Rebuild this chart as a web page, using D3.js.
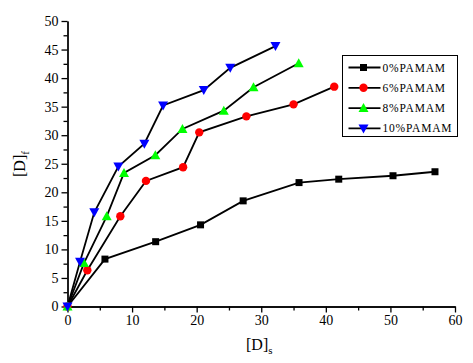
<!DOCTYPE html>
<html>
<head>
<meta charset="utf-8">
<script src="https://cdn.jsdelivr.net/npm/d3@7"></script>
<style>
  body { margin: 0; background: #fff; }
  svg { display: block; font-family: "Liberation Serif", "Times New Roman", serif; }
  .axis path, .axis line { stroke: #000; stroke-width: 1.3; }
  .axis text { font-size: 14px; fill: #000; font-family: "Liberation Serif", serif; }
</style>
</head>
<body>
<svg width="473" height="363"></svg>
<script>
// series names, x values ([D]s) and y values ([D]f)
var seriesNames = ["0%PAMAM", "6%PAMAM", "8%PAMAM", "10%PAMAM"];
var x0 = [0, 5.8, 13.65, 20.6, 27.2, 35.85, 42.0, 50.4, 56.9];
var y0 = [0, 8.3, 11.35, 14.3, 18.5, 21.7, 22.3, 22.9, 23.6];
var x6 = [0, 3.07, 8.18, 12.15, 17.9, 20.4, 27.7, 35.0, 41.3];
var y6 = [0, 6.34, 15.8, 22.0, 24.4, 30.5, 33.3, 35.4, 38.5];
var x8 = [0, 2.55, 6.07, 8.75, 13.6, 17.8, 24.2, 28.8, 35.8];
var y8 = [0, 7.6, 15.8, 23.4, 26.5, 31.1, 34.3, 38.4, 42.6];
var x10 = [0, 1.94, 4.15, 7.87, 11.9, 14.8, 21.1, 25.2, 32.2];
var y10 = [0, 7.85, 16.5, 24.5, 28.5, 35.2, 37.9, 41.8, 45.6];
var xTicks = [0, 10, 20, 30, 40, 50, 60];
var yTicks = [0, 5, 10, 15, 20, 25, 30, 35, 40, 45, 50];

var svg = d3.select("svg");

var xScale = d3.scaleLinear().domain([0, 60]).range([67.5, 455]);
var yScale = d3.scaleLinear().domain([0, 50]).range([306.5, 21]);

// minor ticks first, then major axes on top
svg.append("g").attr("class", "axis")
    .attr("transform", "translate(0,306.5)")
    .call(d3.axisBottom(xScale).tickValues(d3.range(5, 60, 10)).tickSize(4).tickSizeOuter(0).tickFormat(""));
svg.append("g").attr("class", "axis")
    .attr("transform", "translate(67.5,0)")
    .call(d3.axisLeft(yScale).tickValues(d3.range(2.5, 50, 5)).tickSize(4).tickSizeOuter(0).tickFormat(""));

svg.append("g").attr("class", "axis")
    .attr("transform", "translate(0,306.5)")
    .call(d3.axisBottom(xScale).tickValues(xTicks).tickSize(6).tickSizeOuter(0).tickPadding(3));
svg.append("g").attr("class", "axis")
    .attr("transform", "translate(67.5,0)")
    .call(d3.axisLeft(yScale).tickValues(yTicks).tickSize(6).tickSizeOuter(0).tickPadding(3));

// axis titles
var xt = svg.append("text").attr("x", 246).attr("y", 350).attr("font-size", 16);
xt.append("tspan").text("[D]");
xt.append("tspan").attr("font-size", 11).attr("dy", 4).text("s");

var yt = svg.append("text").attr("transform", "translate(25,177) rotate(-90)").attr("font-size", 16);
yt.append("tspan").text("[D]");
yt.append("tspan").attr("font-size", 11).attr("dy", 4).text("f");

var series = [
  { name: seriesNames[0], xs: x0, ys: y0, color: "#000000", shape: "square" },
  { name: seriesNames[1], xs: x6, ys: y6, color: "#ff0000", shape: "circle" },
  { name: seriesNames[2], xs: x8, ys: y8, color: "#00ff00", shape: "up" },
  { name: seriesNames[3], xs: x10, ys: y10, color: "#0000ff", shape: "down" }
];

function marker(sel, s) {
  if (s.shape === "square") {
    sel.append("rect").attr("x", -3.5).attr("y", -3.5).attr("width", 7).attr("height", 7).attr("fill", s.color);
  } else if (s.shape === "circle") {
    sel.append("circle").attr("r", 4.2).attr("fill", s.color);
  } else if (s.shape === "up") {
    sel.append("path").attr("d", "M0,-5L5,4L-5,4Z").attr("fill", s.color);
  } else {
    sel.append("path").attr("d", "M0,5L5,-4L-5,-4Z").attr("fill", s.color);
  }
}

var line = d3.line().x(function (d) { return xScale(d[0]); }).y(function (d) { return yScale(d[1]); });

series.forEach(function (s) {
  var pts = s.xs.map(function (x, i) { return [x, s.ys[i]]; });
  svg.append("path").datum(pts)
      .attr("d", line)
      .attr("fill", "none")
      .attr("stroke", "#000")
      .attr("stroke-width", 1.8);
});
series.forEach(function (s) {
  var pts = s.xs.map(function (x, i) { return [x, s.ys[i]]; });
  svg.append("g").selectAll("g")
      .data(pts)
      .enter().append("g")
      .attr("transform", function (d) { return "translate(" + xScale(d[0]) + "," + yScale(d[1]) + ")"; })
      .each(function () { marker(d3.select(this), s); });
});

// legend
var lg = svg.append("g").attr("transform", "translate(342.5,55.5)");
lg.append("rect").attr("width", 115).attr("height", 81).attr("fill", "#fff").attr("stroke", "#000").attr("stroke-width", 1);
series.forEach(function (s, i) {
  var row = lg.append("g").attr("transform", "translate(0," + (12 + i * 20.3) + ")");
  row.append("line").attr("x1", 6).attr("x2", 38).attr("stroke", "#000").attr("stroke-width", 1.8);
  marker(row.append("g").attr("transform", "translate(21,0)"), s);
  row.append("text").attr("x", 40).attr("y", 4).attr("font-size", 11.5)
      .attr("letter-spacing", 0.8).text(s.name);
});
</script>
</body>
</html>
